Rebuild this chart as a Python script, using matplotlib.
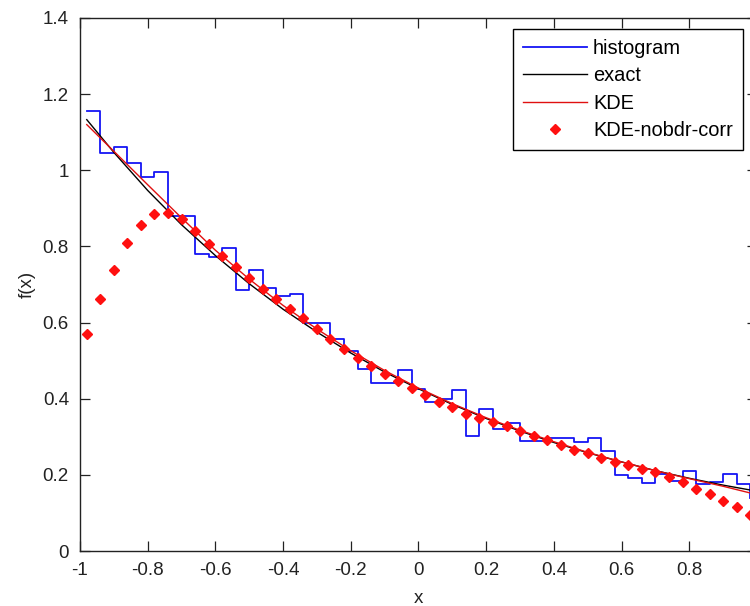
import numpy as np
import matplotlib.pyplot as plt

# bin centres of the 50-bin histogram on [-1, 1]
bin_centers = np.round(np.arange(-0.98, 1.0, 0.04), 2)

hist_vals = [1.156, 1.045, 1.061, 1.020, 0.983, 0.996, 0.879, 0.879, 0.780, 0.771,
             0.796, 0.685, 0.738, 0.692, 0.669, 0.674, 0.599, 0.599, 0.556, 0.526,
             0.477, 0.440, 0.440, 0.475, 0.425, 0.392, 0.398, 0.423, 0.303, 0.373,
             0.320, 0.336, 0.288, 0.288, 0.297, 0.297, 0.287, 0.297, 0.262, 0.200,
             0.192, 0.179, 0.201, 0.184, 0.211, 0.176, 0.181, 0.201, 0.176, 0.140]

kde_nobdr_vals = [0.569, 0.661, 0.738, 0.808, 0.857, 0.885, 0.888, 0.872, 0.840, 0.806,
                  0.775, 0.746, 0.717, 0.688, 0.661, 0.636, 0.611, 0.582, 0.556, 0.530,
                  0.507, 0.486, 0.466, 0.447, 0.427, 0.409, 0.392, 0.377, 0.361, 0.350,
                  0.339, 0.328, 0.314, 0.303, 0.291, 0.278, 0.265, 0.258, 0.245, 0.233,
                  0.227, 0.216, 0.207, 0.195, 0.181, 0.164, 0.151, 0.131, 0.115, 0.094]

# smooth curves
curve_x = [-0.98, -0.9, -0.8, -0.7, -0.6, -0.5, -0.4, -0.3, -0.2, -0.1, 0.0,
           0.1, 0.2, 0.3, 0.4, 0.5, 0.6, 0.7, 0.8, 0.9, 1.0]
exact_vals = [1.133, 1.047, 0.947, 0.857, 0.776, 0.702, 0.635, 0.575, 0.520, 0.470, 0.426,
              0.385, 0.348, 0.315, 0.285, 0.258, 0.234, 0.211, 0.191, 0.173, 0.157]
kde_vals = [1.120, 1.050, 0.962, 0.875, 0.790, 0.714, 0.645, 0.583, 0.526, 0.474, 0.428,
            0.387, 0.350, 0.317, 0.287, 0.259, 0.234, 0.211, 0.190, 0.170, 0.148]

x_ticks = [-1, -0.8, -0.6, -0.4, -0.2, 0, 0.2, 0.4, 0.6, 0.8]
x_ticklabels = ['-1', '-0.8', '-0.6', '-0.4', '-0.2', '0', '0.2', '0.4', '0.6', '0.8']
y_ticks = [0, 0.2, 0.4, 0.6, 0.8, 1.0, 1.2, 1.4]
y_ticklabels = ['0', '0.2', '0.4', '0.6', '0.8', '1', '1.2', '1.4']

plt.rcParams['font.family'] = ['Liberation Sans', 'DejaVu Sans']
fs = 13.5

fig = plt.figure(figsize=(7.5, 6.06), dpi=100)
# axes runs slightly past the right edge of the figure
ax = fig.add_axes([80 / 750, 55 / 606, 677 / 750, 533 / 606])

ax.step(bin_centers, hist_vals, where='post', color='#1515f5', lw=1.3, label='histogram')
ax.plot(curve_x, exact_vals, color='black', lw=1.0, label='exact')
ax.plot(curve_x, kde_vals, color='#e01010', lw=1.0, label='KDE')
ax.plot(bin_centers, kde_nobdr_vals, ls='none', marker='D', ms=4.7, color='#ff1010',
        mec='#ff1010', label='KDE-nobdr-corr')

ax.set_xlim(-1, 1)
ax.set_ylim(0, 1.4)
ax.set_xticks(x_ticks)
ax.set_xticklabels(x_ticklabels)
ax.set_yticks(y_ticks)
ax.set_yticklabels(y_ticklabels)
ax.tick_params(direction='in', length=7, width=0.9, top=True, right=True,
               labelsize=fs, labelcolor='#222222', color='#222222', pad=8)
for s in ax.spines.values():
    s.set_color('#222222')
    s.set_linewidth(1.0)

ax.set_xlabel('x', fontsize=fs, color='#222222', labelpad=8)
ax.set_ylabel('f(x)', fontsize=fs, color='#222222', labelpad=5)

leg = ax.legend(loc='upper right', bbox_to_anchor=(743 / 750, 1 - 29 / 606),
                bbox_transform=fig.transFigure, borderaxespad=0, fontsize=14.4,
                fancybox=False, framealpha=1, edgecolor='black', numpoints=1,
                handlelength=3.2, handletextpad=0.3, labelspacing=0.42, borderpad=0.5)
leg.get_frame().set_linewidth(1.0)

fig.savefig('out.png', dpi=100)
